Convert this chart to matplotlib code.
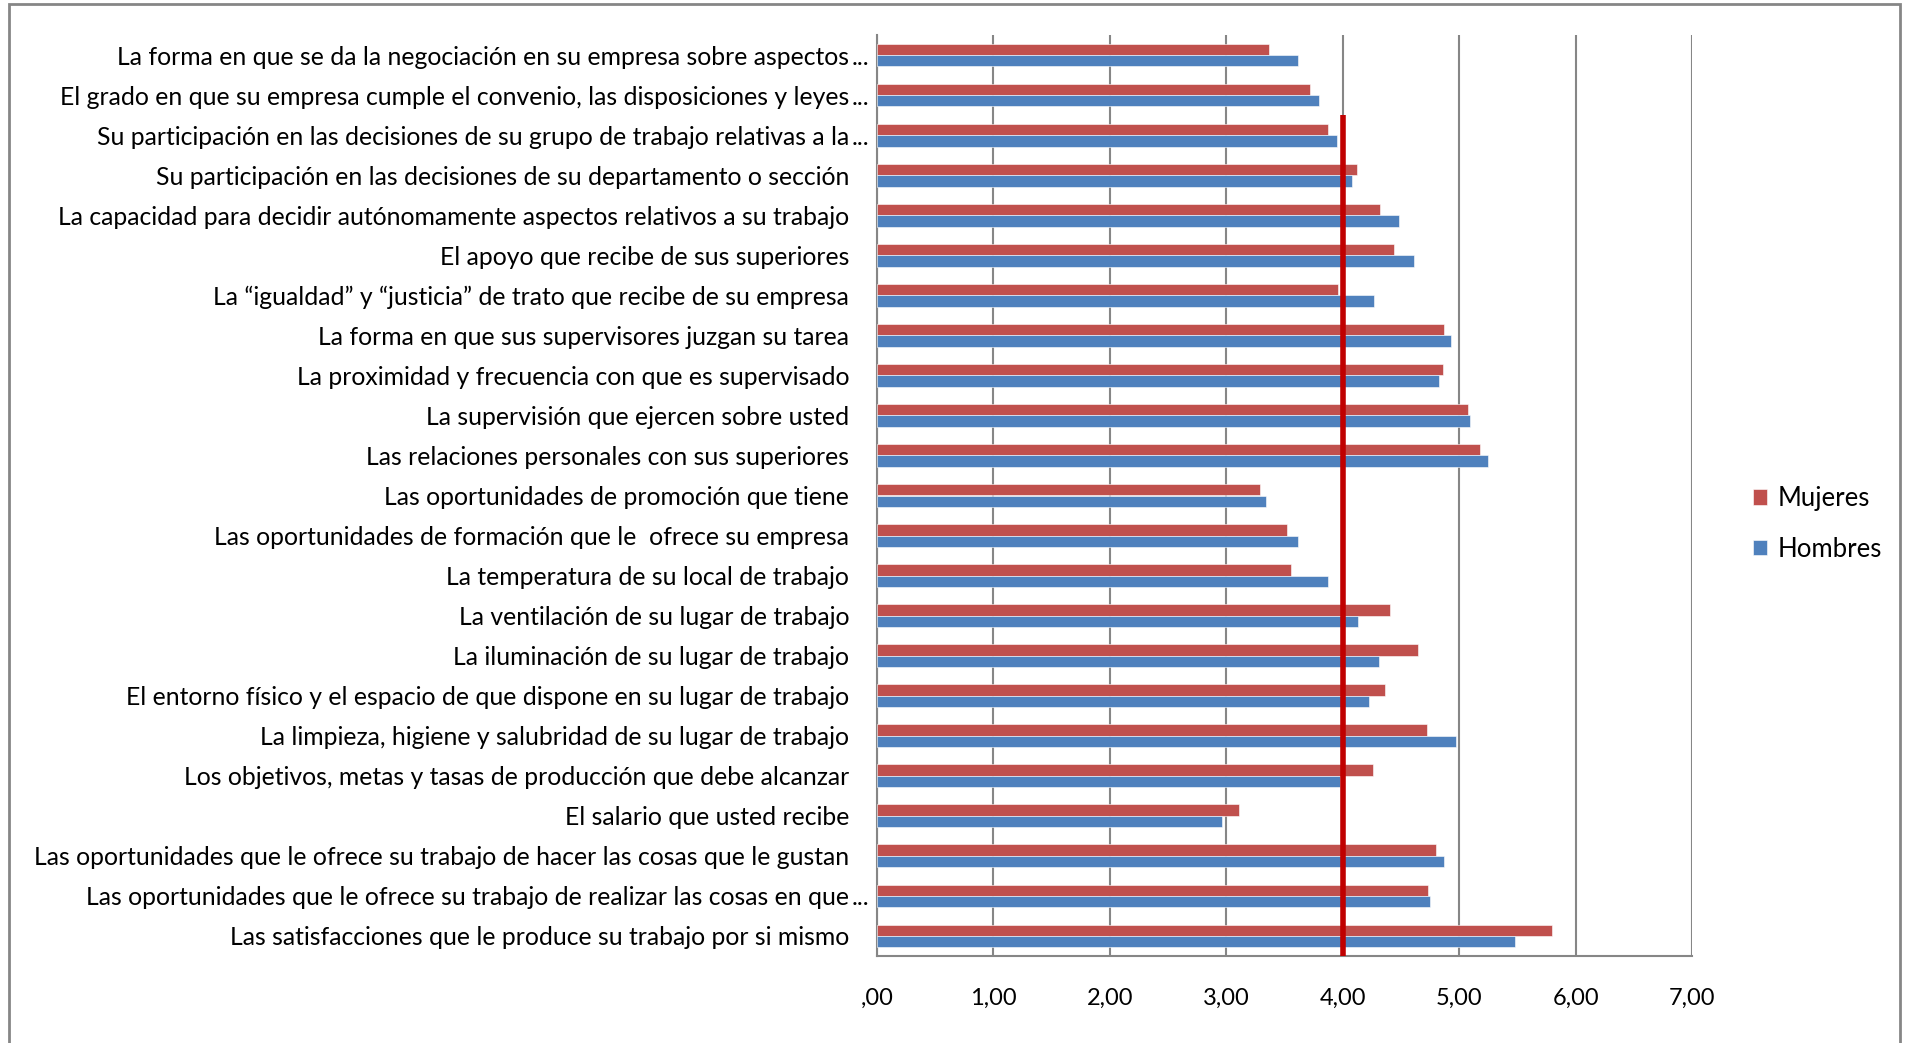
import numpy as np
import matplotlib.pyplot as plt
from matplotlib.patches import Rectangle

plt.rcParams['font.family'] = ['Lato', 'DejaVu Sans']

# items, listed top to bottom
items = [
    "La forma en que se da la negociación en su empresa sobre aspectos…",
    "El grado en que su empresa cumple el convenio, las disposiciones y leyes…",
    "Su participación en las decisiones de su grupo de trabajo relativas a la…",
    "Su participación en las decisiones de su departamento o sección",
    "La capacidad para decidir autónomamente aspectos relativos a su trabajo",
    "El apoyo que recibe de sus superiores",
    "La “igualdad” y “justicia” de trato que recibe de su empresa",
    "La forma en que sus supervisores juzgan su tarea",
    "La proximidad y frecuencia con que es supervisado",
    "La supervisión que ejercen sobre usted",
    "Las relaciones personales con sus superiores",
    "Las oportunidades de promoción que tiene",
    "Las oportunidades de formación que le  ofrece su empresa",
    "La temperatura de su local de trabajo",
    "La ventilación de su lugar de trabajo",
    "La iluminación de su lugar de trabajo",
    "El entorno físico y el espacio de que dispone en su lugar de trabajo",
    "La limpieza, higiene y salubridad de su lugar de trabajo",
    "Los objetivos, metas y tasas de producción que debe alcanzar",
    "El salario que usted recibe",
    "Las oportunidades que le ofrece su trabajo de hacer las cosas que le gustan",
    "Las oportunidades que le ofrece su trabajo de realizar las cosas en que…",
    "Las satisfacciones que le produce su trabajo por si mismo",
]

mujeres = [3.37, 3.72, 3.87, 4.12, 4.32, 4.44, 3.96, 4.87, 4.86, 5.08, 5.18, 3.29,
           3.52, 3.56, 4.41, 4.65, 4.36, 4.72, 4.26, 3.11, 4.80, 4.73, 5.80]
hombres = [3.62, 3.80, 3.95, 4.08, 4.48, 4.61, 4.27, 4.93, 4.83, 5.09, 5.25, 3.34,
           3.62, 3.87, 4.13, 4.31, 4.23, 4.97, 3.98, 2.96, 4.87, 4.75, 5.48]

xticks = [0, 1, 2, 3, 4, 5, 6, 7]
xtick_labels = [',00', '1,00', '2,00', '3,00', '4,00', '5,00', '6,00', '7,00']

reference = 4.0

red = '#C0504D'
blue = '#4F81BD'
grid = '#868686'

fig = plt.figure(figsize=(19.1, 10.43), dpi=100)
ax = fig.add_axes([877 / 1910, 1 - 956 / 1043, 815 / 1910, 921 / 1043])

y = np.arange(len(items))
h = 0.285
ax.barh(y - h / 2, mujeres, height=h, color=red, edgecolor='white', linewidth=0.4,
        label='Mujeres', zorder=3)
ax.barh(y + h / 2, hombres, height=h, color=blue, edgecolor='white', linewidth=0.4,
        label='Hombres', zorder=3)

# reference line at 4
ax.plot([reference, reference], [1.5, len(items) - 0.5], color='#C00000', lw=4,
        solid_capstyle='butt', zorder=4)

ax.set_xlim(0, 7)
ax.set_ylim(len(items) - 0.5, -0.5)
ax.set_xticks(xticks)
ax.set_xticklabels(xtick_labels, fontsize=17)
ax.xaxis.grid(True, color=grid, lw=1.5, zorder=0)

labels = [s.rstrip('…') for s in items]
ax.set_yticks(y)
ax.set_yticklabels(labels, fontsize=17.8)
ax.tick_params(axis='both', length=0)
ax.tick_params(axis='y', pad=20)
ax.tick_params(axis='x', pad=23)

for sp in ['top', 'right']:
    ax.spines[sp].set_visible(False)
for sp in ['left', 'bottom']:
    ax.spines[sp].set_color(grid)
    ax.spines[sp].set_linewidth(1.5)

# truncated labels get their ellipsis after the aligned text
for s, lab in zip(items, ax.get_yticklabels()):
    if s.endswith('…'):
        ax.annotate('...', xy=(1, 0), xycoords=lab, xytext=(2, 0),
                    textcoords='offset points', ha='left', va='bottom',
                    fontsize=17.8)

fig.legend(loc='center left', bbox_to_anchor=(1730 / 1910, 1 - 524 / 1043),
           frameon=False, fontsize=18.5, handlelength=0.55, handleheight=0.55,
           handletextpad=0.4, labelspacing=1.0)

fig.patches.append(Rectangle((8.5 / 1910, -0.1), (1900 - 8.5) / 1910, 1.1 - 4 / 1043,
                             transform=fig.transFigure, fill=False,
                             edgecolor=grid, lw=2))

fig.savefig('out.png', dpi=100)
